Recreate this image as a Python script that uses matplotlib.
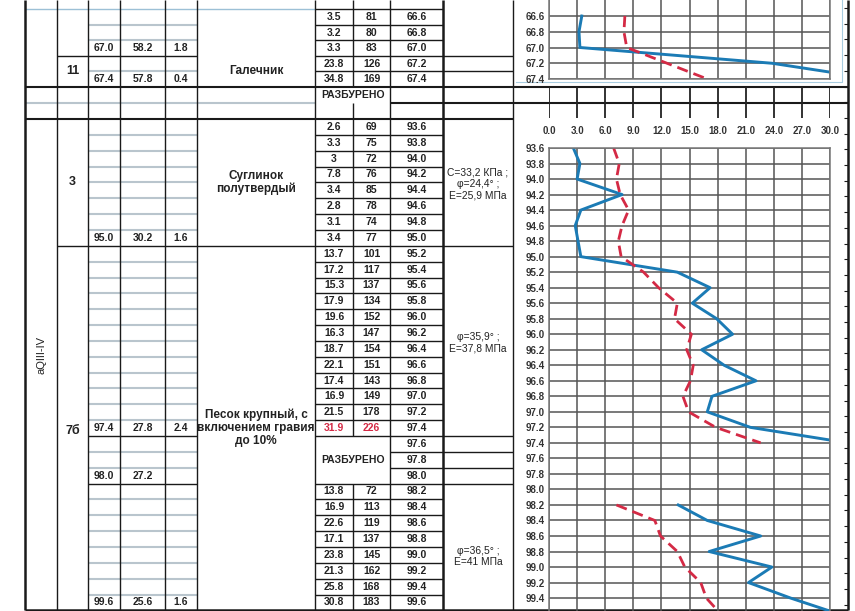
import matplotlib
matplotlib.use("Agg")
from matplotlib import pyplot as plt
import numpy as np

plt.rcParams['font.family'] = ['Liberation Sans', 'DejaVu Sans']

########################################################
# данные
depth_top = [66.6, 66.8, 67.0, 67.2, 67.4]
qc_top = [3.5, 3.2, 3.3, 23.8, 34.8]
n_top = [81, 80, 83, 126, 169]

depth_low = [93.6, 93.8, 94.0, 94.2, 94.4, 94.6, 94.8, 95.0, 95.2, 95.4, 95.6,
             95.8, 96.0, 96.2, 96.4, 96.6, 96.8, 97.0, 97.2, 97.4, 97.6, 97.8,
             98.0, 98.2, 98.4, 98.6, 98.8, 99.0, 99.2, 99.4, 99.6]
qc_low = [2.6, 3.3, 3, 7.8, 3.4, 2.8, 3.1, 3.4, 13.7, 17.2, 15.3, 17.9, 19.6,
          16.3, 18.7, 22.1, 17.4, 16.9, 21.5, 31.9, None, None, None, 13.8,
          16.9, 22.6, 17.1, 23.8, 21.3, 25.8, 30.8]
n_low = [69, 75, 72, 76, 85, 78, 74, 77, 101, 117, 137, 134, 152, 147, 154,
         151, 143, 149, 178, 226, None, None, None, 72, 113, 119, 137, 145,
         162, 168, 183]
drilled = [97.6, 97.8, 98.0]

# слои: (строка, отметка, абс. отметка, мощность)
layers_top = [(2, "67.0", "58.2", "1.8"), (4, "67.4", "57.8", "0.4")]
layers_low = [(7, "95.0", "30.2", "1.6"), (19, "97.4", "27.8", "2.4"),
              (22, "98.0", "27.2", ""), (30, "99.6", "25.6", "1.6")]
red_rows = [97.4]

comments = ["С=33,2 КПа ;\nφ=24,4° ;\nЕ=25,9 МПа",
            "φ=35,9° ;\nЕ=37,8 МПа",
            "φ=36,5° ;\nЕ=41 МПа"]

x_ticks = [0, 3, 6, 9, 12, 15, 18, 21, 24, 27, 30]

########################################################
# геометрия таблицы (в пикселях)
W, H = 855, 611
cols = [25, 57, 88, 120, 165, 197, 315, 353, 390, 443, 513, 848]
top0, top_step = 9.3, 15.5
low0, low_step = 119.0, 15.85
blk = '#1a1a1a'
gry = '#b9c5cd'
BLUE = '#1b7bb5'
RED = '#d42a45'

fig = plt.figure(figsize=(W / 100, H / 100), dpi=100)
ax = fig.add_axes([0, 0, 1, 1])
ax.set_xlim(0, W)
ax.set_ylim(H, 0)
ax.axis('off')


def hl(y, x0, x1, c=blk, lw=1.0):
    ax.plot([x0, x1], [y, y], color=c, lw=lw, solid_capstyle='butt')


def vl(x, y0, y1, c=blk, lw=1.0):
    ax.plot([x, x], [y0, y1], color=c, lw=lw, solid_capstyle='butt')


def yt(i):
    return top0 + top_step * i


def yl(j):
    return low0 + low_step * j


y_bot = yl(31)
num = dict(fontsize=7.5, fontweight='bold', ha='center', va='center', color='#222222')

# верхняя часть
hl(8.5, 25, 315, c='#9cc0d6', lw=1.0)
hl(8.5, 315, 443)
for i in range(1, 5):
    hl(yt(i), 315, 443)
    if i == 3:
        hl(yt(i), 57, 197)
        hl(yt(i), 443, 513)
    else:
        hl(yt(i), 88, 197, c=gry, lw=1.5)
hl(yt(4), 443, 513)
hl(yt(5), 25, 848, lw=1.5)
hl(103, 25, 315, c=gry, lw=1.5)
hl(103, 390, 848, lw=1.5)
hl(low0, 25, 513, lw=1.5)

# нижняя часть
for j in range(1, 31):
    y = yl(j)
    if depth_low[j] in drilled[1:]:
        hl(y, 390, 443)
    else:
        hl(y, 315, 443)
    if j == 8:
        hl(y, 57, 315)
        hl(y, 443, 513)
    elif j in (20, 23):
        hl(y, 88, 197)
        hl(y, 443, 513)
    else:
        hl(y, 88, 197, c=gry, lw=1.5)
    if j in (21, 22):
        hl(y, 443, 513)
hl(y_bot, 25, 848, lw=1.8)

# вертикальные линии
for x in [57, 88, 120, 165, 197, 315, 390, 513]:
    vl(x, 0, y_bot)
for x in [25, 443, 848]:
    vl(x, 0, y_bot, lw=1.8)
vl(353, 0, yt(5))
vl(353, 103, yl(20))
vl(353, yl(23), y_bot)

# засечки справа
for k in range(0, 40):
    y = 8 + 15.7 * k
    if y < H:
        hl(y, 844, 848, lw=0.8)

# рамка верхнего графика
ax.plot([516, 842, 842], [82, 82, 0], color='#a8cce0', lw=0.8)

cx = [(cols[k] + cols[k + 1]) / 2 for k in range(len(cols) - 1)]

# тексты верх
for i in range(5):
    y = yt(i + 0.5)
    ax.text(cx[6], y, f"{qc_top[i]:g}", **num)
    ax.text(cx[7], y, f"{n_top[i]:g}", **num)
    ax.text(cx[8], y, f"{depth_top[i]:.1f}", **num)
for r, a, b, c in layers_top:
    y = yt(r + 0.5)
    ax.text(cx[2], y, a, **num)
    ax.text(cx[3], y, b, **num)
    ax.text(cx[4], y, c, **num)
ax.text(cx[1], (yt(3) + yt(5)) / 2, "11", fontsize=9, fontweight='bold',
        ha='center', va='center', color='#222222')
ax.text(cx[5], (yt(3) + yt(5)) / 2, "Галечник", fontsize=8.5, fontweight='bold',
        ha='center', va='center', color='#222222')
ax.text((315 + 390) / 2, 95, "РАЗБУРЕНО", fontsize=7.5, fontweight='bold',
        ha='center', va='center', color='#222222')

# тексты низ
for j in range(31):
    y = yl(j + 0.5)
    if qc_low[j] is not None:
        c = RED if depth_low[j] in red_rows else '#222222'
        ax.text(cx[6], y, f"{qc_low[j]:g}", **{**num, 'color': c})
        ax.text(cx[7], y, f"{n_low[j]:g}", **{**num, 'color': c})
    ax.text(cx[8], y, f"{depth_low[j]:.1f}", **num)
ax.text((315 + 390) / 2, yl(21.5), "РАЗБУРЕНО", fontsize=7.5, fontweight='bold',
        ha='center', va='center', color='#222222')
for r, a, b, c in layers_low:
    y = yl(r + 0.5)
    ax.text(cx[2], y, a, **num)
    ax.text(cx[3], y, b, **num)
    ax.text(cx[4], y, c, **num)
ax.text(cx[1], (low0 + yl(8)) / 2, "3", fontsize=9, fontweight='bold',
        ha='center', va='center', color='#222222')
ax.text(cx[1], yl(19.7), "7б", fontsize=9, fontweight='bold',
        ha='center', va='center', color='#222222')
ax.text(cx[5], (low0 + yl(8)) / 2, "Суглинок\nполутвердый", fontsize=8.5,
        fontweight='bold', ha='center', va='center', color='#222222', linespacing=1.1)
ax.text(cx[5], yl(19.5), "Песок крупный, с\nвключением гравия\nдо 10%", fontsize=8.5,
        fontweight='bold', ha='center', va='center', color='#222222', linespacing=1.1)
ax.text(cx[0], 355, "aQIII-IV", fontsize=8, rotation=90, ha='center',
        va='center', color='#222222')
ax.text(cx[9], yl(4.1), comments[0], fontsize=7.4, ha='center', va='center',
        color='#222222', linespacing=1.15)
ax.text(cx[9], yl(14.1), comments[1], fontsize=7.4, ha='center', va='center',
        color='#222222', linespacing=1.15)
ax.text(cx[9], yl(27.6), comments[2], fontsize=7.4, ha='center', va='center',
        color='#222222', linespacing=1.15)


########################################################
# графики
def px_axes(x0, y0, x1, y1):
    return fig.add_axes([x0 / W, 1 - y1 / H, (x1 - x0) / W, (y1 - y0) / H])


def style(a, yt_vals):
    a.set_xlim(0, 30)
    a.set_xticks(x_ticks)
    a.set_yticks(yt_vals)
    a.set_yticklabels([f"{v:.1f}" for v in yt_vals])
    a.tick_params(axis='x', length=0, labelbottom=False)
    a.tick_params(axis='y', length=0, pad=3, labelsize=7, labelcolor='#333333')
    for t in a.get_yticklabels():
        t.set_fontweight('bold')
    a.grid(True, color='#555555', lw=1.1)
    a.set_axisbelow(True)
    for s in a.spines.values():
        s.set_color('#777777')
        s.set_linewidth(1.1)
    a.patch.set_alpha(0)


ax_up = px_axes(549, 79 - (67.4 - 66.3) / 0.2 * 15.75, 830, 79)
ax_up.set_ylim(67.4, 66.3)
style(ax_up, depth_top)
ax_up.plot(qc_top, depth_top, color=BLUE, lw=2.1)
ax_up.plot(np.array(n_top) / 10, depth_top, color=RED, lw=2.0, ls=(0, (4, 2.2)))

d_low = np.array(depth_low, dtype=float)
q_low = np.array([np.nan if v is None else v for v in qc_low], dtype=float)
nn_low = np.array([np.nan if v is None else v for v in n_low], dtype=float)

ax_lo = px_axes(549, 148, 830, 148 + (99.8 - 93.6) / 0.2 * 15.52)
ax_lo.set_ylim(99.8, 93.6)
style(ax_lo, depth_low[:-1])
ax_lo.plot(q_low, d_low, color=BLUE, lw=2.1)
ax_lo.plot(nn_low / 10, d_low, color=RED, lw=2.0, ls=(0, (4, 2.2)))

# шкала
ax_tk = px_axes(549, 87, 830, 118)
ax_tk.set_xlim(0, 30)
ax_tk.set_ylim(0, 1)
ax_tk.vlines(x_ticks, 0, 1, color='#222222', lw=1.3)
ax_tk.set_xticks(x_ticks)
ax_tk.set_xticklabels([f"{v:.1f}" for v in x_ticks])
ax_tk.set_yticks([])
ax_tk.tick_params(axis='x', length=0, pad=6, labelsize=7, labelcolor='#333333')
for t in ax_tk.get_xticklabels():
    t.set_fontweight('bold')
for s in ax_tk.spines.values():
    s.set_visible(False)
ax_tk.patch.set_alpha(0)

fig.savefig("out.png", dpi=100)
